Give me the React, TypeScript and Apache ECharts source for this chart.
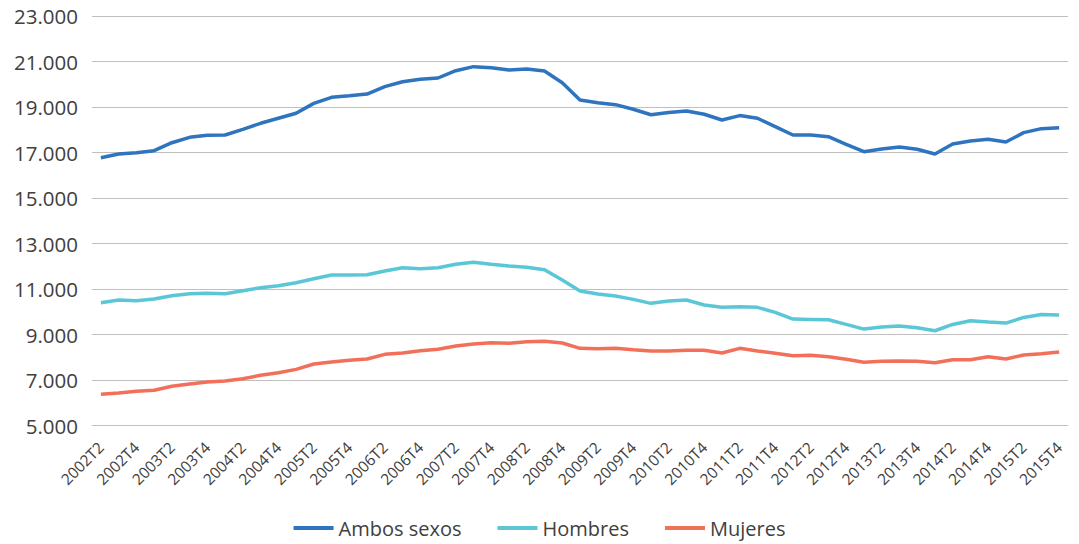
import React, { useEffect, useRef } from "react";
import * as echarts from "echarts";

const categories: string[] = [];
const years = [2002, 2003, 2004, 2005, 2006, 2007, 2008, 2009, 2010, 2011, 2012, 2013, 2014, 2015];
for (const y of years) {
  for (let q = 1; q <= 4; q++) {
    if (y === 2002 && q === 1) continue;
    categories.push(`${y}T${q}`);
  }
}

const ambos = [
  16771, 16934, 16990, 17080, 17430, 17667, 17755, 17770, 18020, 18284, 18505, 18725,
  19160, 19426, 19497, 19571, 19893, 20112, 20216, 20275, 20597, 20773, 20729, 20626,
  20670, 20582, 20066, 19308, 19190, 19102, 18900, 18660, 18762, 18824, 18680, 18428,
  18622, 18505, 18139, 17770, 17770, 17696, 17360, 17037, 17154, 17242, 17140, 16934,
  17374, 17505, 17578, 17460, 17872, 18048, 18092,
];

const hombres = [
  10398, 10516, 10486, 10560, 10706, 10794, 10808, 10794, 10926, 11058, 11146, 11277,
  11453, 11615, 11615, 11630, 11792, 11938, 11894, 11938, 12085, 12173, 12085, 12011,
  11952, 11850, 11395, 10911, 10779, 10692, 10545, 10369, 10472, 10516, 10296, 10193,
  10222, 10193, 9974, 9677, 9663, 9648, 9443, 9237, 9325, 9369, 9295, 9164,
  9443, 9604, 9545, 9501, 9750, 9882, 9853,
];

const mujeres = [
  6371, 6430, 6503, 6547, 6723, 6825, 6913, 6956, 7059, 7205, 7322, 7468,
  7703, 7791, 7864, 7923, 8128, 8187, 8289, 8348, 8494, 8582, 8641, 8612,
  8685, 8700, 8626, 8392, 8377, 8392, 8333, 8275, 8275, 8304, 8304, 8187,
  8392, 8275, 8172, 8069, 8084, 8026, 7908, 7777, 7820, 7835, 7820, 7762,
  7894, 7894, 8026, 7923, 8099, 8157, 8231,
];

const seriesNames = ["Ambos sexos", "Hombres", "Mujeres"];
const seriesColors = ["#2F74BE", "#5BC7D6", "#F2705A"];

const fmt = (v: number) => String(v).replace(/\B(?=(\d{3})+(?!\d))/g, ".");

export default function App() {
  const ref = useRef<HTMLDivElement>(null);
  useEffect(() => {
    document.body.style.margin = "0";
    if (!ref.current) return;
    const chart = echarts.init(ref.current, undefined, { renderer: "svg" });
    const font = "'Open Sans', 'Noto Sans', sans-serif";
    chart.setOption({
      animation: false,
      textStyle: { fontFamily: font },
      grid: { left: 92, right: 11, top: 16, bottom: 118.5, containLabel: false },
      legend: {
        data: seriesNames,
        top: 516,
        left: "center",
        icon: "rect",
        itemWidth: 40,
        itemHeight: 4,
        itemGap: 36,
        padding: 0,
        textStyle: { fontSize: 20, color: "#404040", fontFamily: font, lineHeight: 24 },
      },
      xAxis: {
        type: "category",
        data: categories,
        boundaryGap: true,
        axisLine: { show: false },
        axisTick: { show: false },
        axisLabel: {
          interval: 1,
          rotate: 45,
          fontSize: 15.5,
          color: "#404040",
          margin: 19,
          fontFamily: font,
        },
      },
      yAxis: {
        type: "value",
        min: 5000,
        max: 23000,
        interval: 2000,
        axisLine: { show: false },
        axisTick: { show: false },
        splitLine: { lineStyle: { color: "#C0C0C0", width: 1.2 } },
        axisLabel: {
          formatter: (v: number) => fmt(v),
          fontSize: 20.5,
          color: "#404040",
          margin: 14,
          fontFamily: font,
        },
      },
      series: [ambos, hombres, mujeres].map((d, i) => ({
        name: seriesNames[i],
        type: "line",
        data: d,
        symbol: "none",
        lineStyle: { width: 3.5, color: seriesColors[i] },
        itemStyle: { color: seriesColors[i] },
      })),
    });
    return () => chart.dispose();
  }, []);
  return <div ref={ref} style={{ width: 1079, height: 544 }} />;
}
